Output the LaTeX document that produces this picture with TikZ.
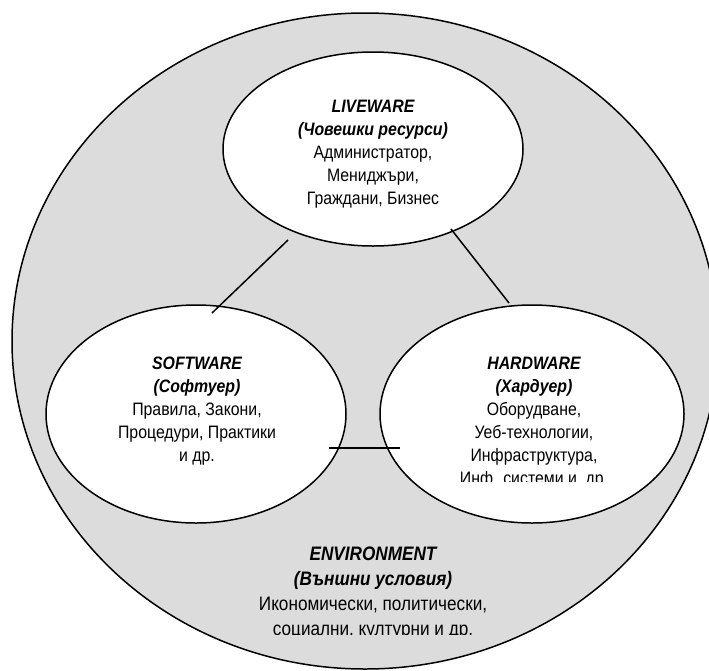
\documentclass[tikz,border=0pt]{standalone}
\usepackage{fontspec}
\setmainfont{Liberation Sans}[FakeStretch=0.88]
\usetikzlibrary{shapes.geometric}
\definecolor{envgray}{RGB}{220,220,220}
\begin{document}
\begin{tikzpicture}[x=1pt,y=-1pt,
  ring/.style={ellipse, draw=black, line width=1.5pt, inner sep=0pt},
  link/.style={draw=black, line width=1.5pt},
  txt/.style={align=center, inner sep=0pt, anchor=north, font=\fontsize{18}{23}\selectfont},
  envtxt/.style={txt, font=\fontsize{19.5}{25}\selectfont}]
\useasboundingbox (0,0) rectangle (709,670);
\fill[white] (0,0) rectangle (709,670);
\clip (0,0) rectangle (709,670);
% ellipses
\node[ring, fill=envgray, minimum width=706pt, minimum height=656pt] (env) at (365,341) {};
\node[ring, fill=white, minimum width=300pt, minimum height=194pt] (live) at (373,149) {};
\node[ring, fill=white, minimum width=300pt, minimum height=218pt] (soft) at (196,414) {};
\node[ring, fill=white, minimum width=304pt, minimum height=218pt] (hard) at (532,414) {};
% connectors
\coordinate (ls-a) at (288,240); \coordinate (ls-b) at (212,313);
\coordinate (lh-a) at (451,229); \coordinate (lh-b) at (509,303);
\coordinate (sh-a) at (329,448); \coordinate (sh-b) at (400,448);
\draw[link] (ls-a) -- (ls-b);
\draw[link] (lh-a) -- (lh-b);
\draw[link] (sh-a) -- (sh-b);
% texts
\node[txt] (livetxt) at (373,95.9) {\strut{\bfseries\itshape LIVEWARE}\\{\bfseries\itshape (Човешки ресурси)}\\Администратор,\\Мениджъри,\\Граждани, Бизнес};
\node[txt] (softtxt) at (197,352.9) {\strut{\bfseries\itshape SOFTWARE}\\{\bfseries\itshape (Софтуер)}\\Правила, Закони,\\Процедури, Практики\\и др.};
\begin{scope}
\clip (380,300) rectangle (690,481);
\node[txt] (hardtxt) at (534,352.9) {\strut{\bfseries\itshape HARDWARE}\\{\bfseries\itshape (Хардуер)}\\Оборудване,\\Уеб-технологии,\\Инфраструктура,\\Инф. системи и\ \ др.};
\end{scope}
\begin{scope}
\clip (100,530) rectangle (650,634);
\node[envtxt] (envtxtn) at (373,542.5) {\strut{\bfseries\itshape ENVIRONMENT}\\{\bfseries\itshape (Външни условия)}\\Икономически, политически,\\социални, културни и др.};
\end{scope}
\end{tikzpicture}
\end{document}
